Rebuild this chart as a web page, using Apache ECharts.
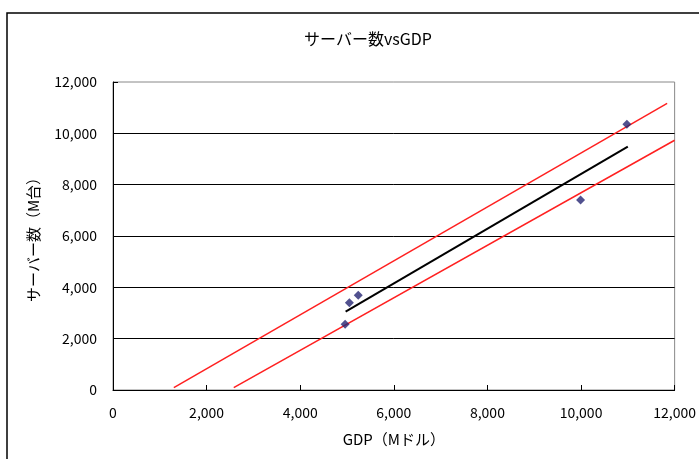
<!DOCTYPE html>
<html><head><meta charset="utf-8">
<script src="https://cdn.jsdelivr.net/npm/echarts@6/dist/echarts.min.js"></script>
<style>html,body{margin:0;padding:0;background:#fff}#c{width:699px;height:459px}</style>
</head><body><div id="c"></div>
<script>
const title = 'サーバー数vsGDP';
const xName = 'GDP（Mドル）';
const yName = 'サーバー数（M台）';
const xTicks = [0, 2000, 4000, 6000, 8000, 10000, 12000];
const yTicks = [0, 2000, 4000, 6000, 8000, 10000, 12000];
// observed points [GDP, servers]
const points = [[4960, 2560], [5050, 3400], [5240, 3690], [9990, 7400], [10980, 10350]];
// regression line
const fitLine = [[4970, 3050], [11000, 9480]];
// upper and lower bands
const upperBand = [[1300, 90], [11840, 11170]];
const lowerBand = [[2580, 90], [12000, 9730]];

const fmt = v => String(v).replace(/\B(?=(\d{3})+(?!\d))/g, ',');
const font = '"Noto Sans CJK JP", "Liberation Sans", sans-serif';
const chart = echarts.init(document.getElementById('c'), null, {renderer: 'canvas'});
chart.setOption({
  animation: false,
  backgroundColor: '#fff',
  graphic: [{type: 'rect', shape: {x: 7, y: 13, width: 720, height: 480},
    style: {fill: 'none', stroke: '#000', lineWidth: 1.5}, z: 100}],
  title: {text: title, left: 363, top: 26, textAlign: 'center',
    textStyle: {fontFamily: font, fontSize: 16, fontWeight: 'normal', color: '#000'}},
  grid: {left: 113, top: 82, right: 23, bottom: 69, show: true, borderColor: '#888', borderWidth: 1},
  xAxis: {type: 'value', min: xTicks[0], max: xTicks[xTicks.length - 1], interval: xTicks[1] - xTicks[0],
    name: xName, nameLocation: 'middle', nameGap: 42,
    nameTextStyle: {fontFamily: font, fontSize: 15, color: '#000'},
    axisLine: {show: true, lineStyle: {color: '#000', width: 1}},
    axisTick: {show: true, inside: true, length: 5, lineStyle: {color: '#000'}},
    axisLabel: {fontFamily: font, fontSize: 14, color: '#000', margin: 16, formatter: fmt},
    splitLine: {show: false}},
  yAxis: {type: 'value', min: yTicks[0], max: yTicks[yTicks.length - 1], interval: yTicks[1] - yTicks[0],
    name: yName, nameLocation: 'middle', nameGap: 72, nameRotate: 90,
    nameTextStyle: {fontFamily: font, fontSize: 15, color: '#000'},
    axisLine: {show: true, lineStyle: {color: '#000', width: 1}},
    axisTick: {show: true, inside: true, length: 5, lineStyle: {color: '#000'}},
    axisLabel: {fontFamily: font, fontSize: 14, color: '#000', margin: 16, formatter: fmt},
    splitLine: {show: true, showMaxLine: false, lineStyle: {color: '#000', width: 1}}},
  series: [
    {type: 'line', data: upperBand, symbol: 'none', lineStyle: {color: '#ff2020', width: 1.5}, z: 3},
    {type: 'line', data: lowerBand, symbol: 'none', lineStyle: {color: '#ff2020', width: 1.5}, z: 3},
    {type: 'line', data: fitLine, symbol: 'none', lineStyle: {color: '#000', width: 2}, z: 3},
    {type: 'scatter', data: points, symbol: 'diamond', symbolSize: 9, itemStyle: {color: '#262673'}, z: 4}
  ]
});
</script></body></html>
